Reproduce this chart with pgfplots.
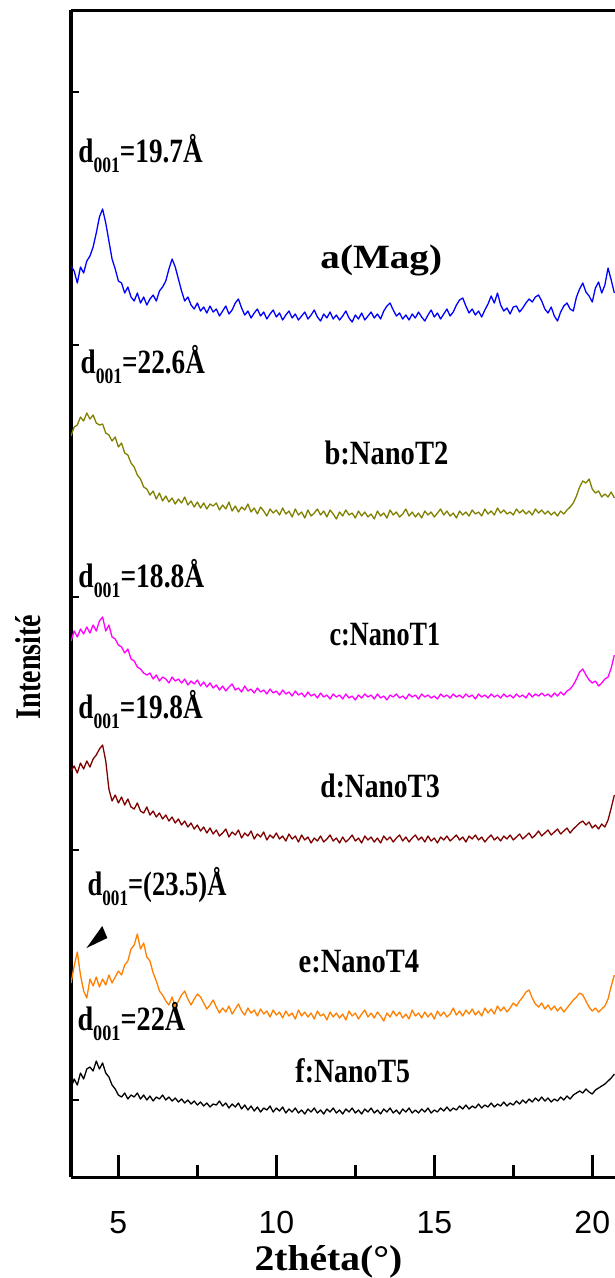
\documentclass[border=0pt]{standalone}
\usepackage{fontspec}
\setmainfont{Liberation Serif}
\setsansfont{Liberation Sans}
\usepackage{graphicx}
\usepackage{pgfplots}
\usepackage{pgfplotstable}
\pgfplotsset{compat=1.18}
\definecolor{cA}{RGB}{0,0,255}
\definecolor{cB}{RGB}{128,128,0}
\definecolor{cC}{RGB}{255,0,255}
\definecolor{cD}{RGB}{128,0,0}
\definecolor{cE}{RGB}{255,128,0}
\newcommand{\labfont}{\fontsize{34}{36}\selectfont\bfseries}
\newcommand{\dlab}[2]{\scalebox{#1}[1]{d\raisebox{-10pt}{\fontsize{22}{22}\selectfont 001}=#2Å}}
\pgfplotstableread{
x a b c d e f
3.5 266 436 641 771 983 1088
3.6 271 427 631 766 966 1079
3.7 283 425 637 773 952 1085
3.8 267 417 629 763 975 1073
3.9 273 421 634 769 991 1079
4.0 261 413 627 761 998 1069
4.1 256 419 633 767 979 1067
4.2 247 415 625 759 986 1071
4.3 233 423 631 755 977 1061
4.4 217 425 621 749 987 1069
4.5 209 424 617 745 979 1063
4.6 223 433 631 761 985 1073
4.7 241 435 625 789 975 1077
4.8 259 441 637 801 983 1085
4.9 269 437 639 795 977 1089
5.0 281 447 645 803 971 1095
5.1 283 443 647 797 975 1097
5.2 293 453 653 805 965 1093
5.3 287 455 649 799 961 1099
5.4 297 463 659 807 949 1095
5.5 301 467 661 809 945 1097
5.6 293 475 667 803 934 1093
5.7 303 479 669 811 949 1099
5.8 297 487 673 813 943 1095
5.9 305 489 675 807 957 1100
6.0 299 495 673 815 961 1096
6.1 295 491 679 811 973 1101
6.2 301 499 675 817 981 1097
6.3 291 493 681 813 991 1099
6.4 287 501 677 819 995 1095
6.5 281 496 679 815 1001 1100
6.6 269 502 683 821 1005 1097
6.7 259 498 677 817 997 1101
6.8 267 504 681 823 1007 1098
6.9 279 499 679 819 1001 1102
7.0 291 503 683 825 995 1099
7.1 301 497 679 821 991 1103
7.2 297 505 685 827 999 1100
7.3 305 501 681 823 1005 1104
7.4 309 507 684 829 999 1101
7.5 303 502 680 825 994 1105
7.6 311 508 686 831 997 1102
7.7 307 503 682 827 1003 1106
7.8 313 509 687 833 1009 1103
7.9 306 504 683 828 1005 1107
8.0 312 506 688 834 1000 1104
8.1 309 503 685 830 1007 1105
8.2 316 510 690 836 1013 1101
8.3 311 505 686 833 1008 1106
8.4 306 509 691 829 1012 1103
8.5 314 502 687 837 1006 1108
8.6 310 511 684 832 1014 1104
8.7 303 506 690 835 1009 1107
8.8 299 512 688 830 1004 1103
8.9 308 507 692 838 1011 1109
9.0 315 510 686 833 1015 1105
9.1 311 504 691 836 1008 1110
9.2 318 512 689 831 1013 1106
9.3 313 508 693 839 1010 1111
9.4 309 514 688 834 1016 1107
9.5 316 507 692 837 1009 1112
9.6 312 511 690 832 1014 1108
9.7 319 516 694 840 1011 1110
9.8 314 509 689 835 1017 1106
9.9 310 513 693 838 1010 1112
10.0 317 510 691 833 1015 1108
10.1 313 515 695 839 1012 1111
10.2 320 508 690 836 1018 1107
10.3 315 514 694 841 1011 1113
10.4 311 511 692 834 1016 1109
10.5 318 517 696 839 1013 1112
10.6 314 509 691 836 1019 1108
10.7 320 515 695 842 1010 1113
10.8 316 512 693 835 1016 1110
10.9 312 518 697 840 1012 1114
11.0 319 510 692 837 1017 1109
11.1 315 516 696 843 1013 1112
11.2 310 513 694 838 1019 1108
11.3 317 509 698 841 1011 1113
11.4 321 515 693 836 1016 1110
11.5 314 511 697 842 1014 1114
11.6 318 517 695 839 1020 1109
11.7 312 510 699 835 1012 1112
11.8 319 514 694 841 1017 1108
11.9 315 519 697 838 1013 1113
12.0 320 512 695 843 1018 1110
12.1 316 516 699 837 1014 1114
12.2 311 510 694 842 1020 1109
12.3 318 515 698 839 1011 1112
12.4 322 513 696 835 1016 1108
12.5 315 518 700 841 1013 1113
12.6 319 511 695 838 1019 1110
12.7 313 516 698 843 1014 1114
12.8 320 512 694 836 1010 1109
12.9 316 517 697 840 1017 1112
13.0 312 514 695 837 1013 1108
13.1 318 519 699 842 1018 1113
13.2 314 511 694 838 1012 1110
13.3 319 516 698 843 1016 1114
13.4 311 513 696 836 1021 1109
13.5 306 518 700 840 1013 1112
13.6 303 510 695 837 1017 1108
13.7 310 515 697 842 1011 1113
13.8 316 512 694 838 1016 1110
13.9 313 517 698 835 1012 1114
14.0 319 514 696 841 1018 1109
14.1 315 509 699 837 1014 1112
14.2 320 516 694 842 1019 1108
14.3 314 512 697 838 1010 1113
14.4 318 517 695 835 1016 1110
14.5 312 513 699 840 1013 1113
14.6 317 518 694 837 1018 1109
14.7 321 511 697 842 1012 1112
14.8 315 515 695 836 1017 1108
14.9 310 512 698 841 1013 1113
15.0 317 517 696 838 1019 1110
15.1 313 513 699 843 1011 1112
15.2 319 509 694 837 1016 1108
15.3 314 515 697 840 1012 1111
15.4 309 511 695 836 1017 1107
15.5 316 516 698 841 1014 1111
15.6 312 513 694 838 1008 1108
15.7 305 518 697 835 1015 1110
15.8 300 511 695 840 1011 1106
15.9 298 515 698 837 1016 1109
16.0 306 512 694 842 1010 1105
16.1 313 516 697 836 1014 1109
16.2 309 510 695 839 1009 1106
16.3 315 514 699 835 1015 1108
16.4 311 512 694 840 1011 1104
16.5 317 516 697 837 1016 1108
16.6 310 509 695 842 1008 1105
16.7 304 514 698 838 1013 1107
16.8 296 511 694 835 1009 1103
16.9 303 515 697 840 1014 1107
17.0 293 508 695 837 1006 1104
17.1 305 513 698 841 1011 1106
17.2 311 510 694 836 1007 1102
17.3 308 514 697 839 1012 1106
17.4 314 512 695 835 1008 1103
17.5 307 515 698 840 1003 1105
17.6 306 509 694 837 1006 1101
17.7 312 513 697 834 1001 1104
17.8 308 510 695 839 997 1100
17.9 303 514 698 836 992 1103
18.0 299 511 693 833 990 1099
18.1 302 515 697 838 998 1102
18.2 297 509 694 835 1004 1098
18.3 295 513 696 831 1007 1101
18.4 301 510 693 836 1003 1097
18.5 309 514 696 833 1009 1101
18.6 313 511 694 830 1005 1098
18.7 307 515 697 835 1010 1102
18.8 316 512 693 832 1006 1099
18.9 321 516 696 829 1011 1101
19.0 312 511 692 834 1007 1097
19.1 306 514 695 831 1012 1100
19.2 303 510 691 828 1008 1096
19.3 309 507 689 833 1004 1099
19.4 311 503 685 829 1000 1095
19.5 297 496 679 826 997 1093
19.6 289 487 672 823 993 1091
19.7 283 481 669 821 995 1093
19.8 292 483 675 825 1001 1089
19.9 296 479 680 822 1007 1092
20.0 302 489 683 828 1011 1094
20.1 288 493 681 825 1008 1090
20.2 282 491 686 829 1012 1088
20.3 293 497 683 824 1009 1086
20.4 285 494 679 827 1006 1084
20.5 268 497 677 820 999 1081
20.6 280 492 668 808 986 1078
20.7 293 498 655 795 975 1074
}\xrd
\begin{document}
\begin{tikzpicture}
\begin{axis}[
  at={(71pt,101pt)}, anchor=south west,
  width=544pt, height=1167pt, scale only axis,
  xmin=3.5, xmax=20.72, ymin=10, ymax=1177, y dir=reverse,
  axis x line=box, axis y line=left,
  axis line style={line width=3pt,-},
  clip mode=individual,
  xtick={5,10,15,20}, xticklabels={5,10,15,20},
  minor xtick={7.5,12.5,17.5},
  major tick length=22pt, minor tick length=12pt,
  every tick/.style={black, line width=2.5pt},
  tick align=inside,
  xtick pos=left,
  ytick=\empty,
  xticklabel style={font=\fontsize{32}{32}\selectfont\sffamily, inner sep=0pt, anchor=north, yshift=-34pt},
]
\addplot[cA, line width=1.3pt, line join=round] table[x=x,y=a]{\xrd};
\addplot[cB, line width=1.3pt, line join=round] table[x=x,y=b]{\xrd};
\addplot[cC, line width=1.3pt, line join=round] table[x=x,y=c]{\xrd};
\addplot[cD, line width=1.3pt, line join=round] table[x=x,y=d]{\xrd};
\addplot[cE, line width=1.3pt, line join=round] table[x=x,y=e]{\xrd};
\addplot[black, line width=1.3pt, line join=round] table[x=x,y=f]{\xrd};
% small y ticks
\draw[line width=2pt] (axis cs:3.5,92) -- (axis cs:3.75,92);
\draw[line width=2pt] (axis cs:3.5,345) -- (axis cs:3.75,345);
\draw[line width=2pt] (axis cs:3.5,597) -- (axis cs:3.75,597);
\draw[line width=2pt] (axis cs:3.5,850) -- (axis cs:3.75,850);
\draw[line width=2pt] (axis cs:3.5,1100) -- (axis cs:3.75,1100);
% arrowhead
\fill[black] (axis cs:3.99,948) -- (axis cs:4.49,926) -- (axis cs:4.65,938) -- cycle;
% d-spacing labels
\node[anchor=base west, inner sep=0pt, font=\labfont] at (axis cs:3.73,162) {\dlab{0.8}{19.7}};
\node[anchor=base west, inner sep=0pt, font=\labfont] at (axis cs:3.80,373) {\dlab{0.8}{22.6}};
\node[anchor=base west, inner sep=0pt, font=\labfont] at (axis cs:3.73,587) {\dlab{0.81}{18.8}};
\node[anchor=base west, inner sep=0pt, font=\labfont] at (axis cs:3.73,718) {\dlab{0.8}{19.8}};
\node[anchor=base west, inner sep=0pt, font=\labfont] at (axis cs:4.02,895) {\dlab{0.78}{(23.5)}};
\node[anchor=base west, inner sep=0pt, font=\labfont] at (axis cs:3.70,1030) {\dlab{0.83}{22}};
% sample labels
\node[anchor=base west, inner sep=0pt, font=\labfont] at (axis cs:11.39,268) {\scalebox{1.15}[1]{a(Mag)}};
\node[anchor=base west, inner sep=0pt, font=\labfont] at (axis cs:11.52,464) {\scalebox{0.84}[1]{b:NanoT2}};
\node[anchor=base west, inner sep=0pt, font=\labfont] at (axis cs:11.68,645) {\scalebox{0.77}[1]{c:NanoT1}};
\node[anchor=base west, inner sep=0pt, font=\labfont] at (axis cs:11.39,797) {\scalebox{0.81}[1]{d:NanoT3}};
\node[anchor=base west, inner sep=0pt, font=\labfont] at (axis cs:10.70,972) {\scalebox{0.84}[1]{e:NanoT4}};
\node[anchor=base west, inner sep=0pt, font=\labfont] at (axis cs:10.60,1082) {\scalebox{0.82}[1]{f:NanoT5}};
% x label
\node[anchor=center, inner sep=0pt, font=\fontsize{36}{38}\selectfont\bfseries] at (axis cs:11.65,1262) {\scalebox{1.1}[1]{2théta(°)}};
\end{axis}
\node[rotate=90, inner sep=0pt, font=\fontsize{36}{38}\selectfont\bfseries] at (28pt,611pt) {\scalebox{0.78}[1]{Intensité}};
\pgfresetboundingbox
\path[use as bounding box] (0,0) rectangle (615pt,1278pt);
\end{tikzpicture}
\end{document}
